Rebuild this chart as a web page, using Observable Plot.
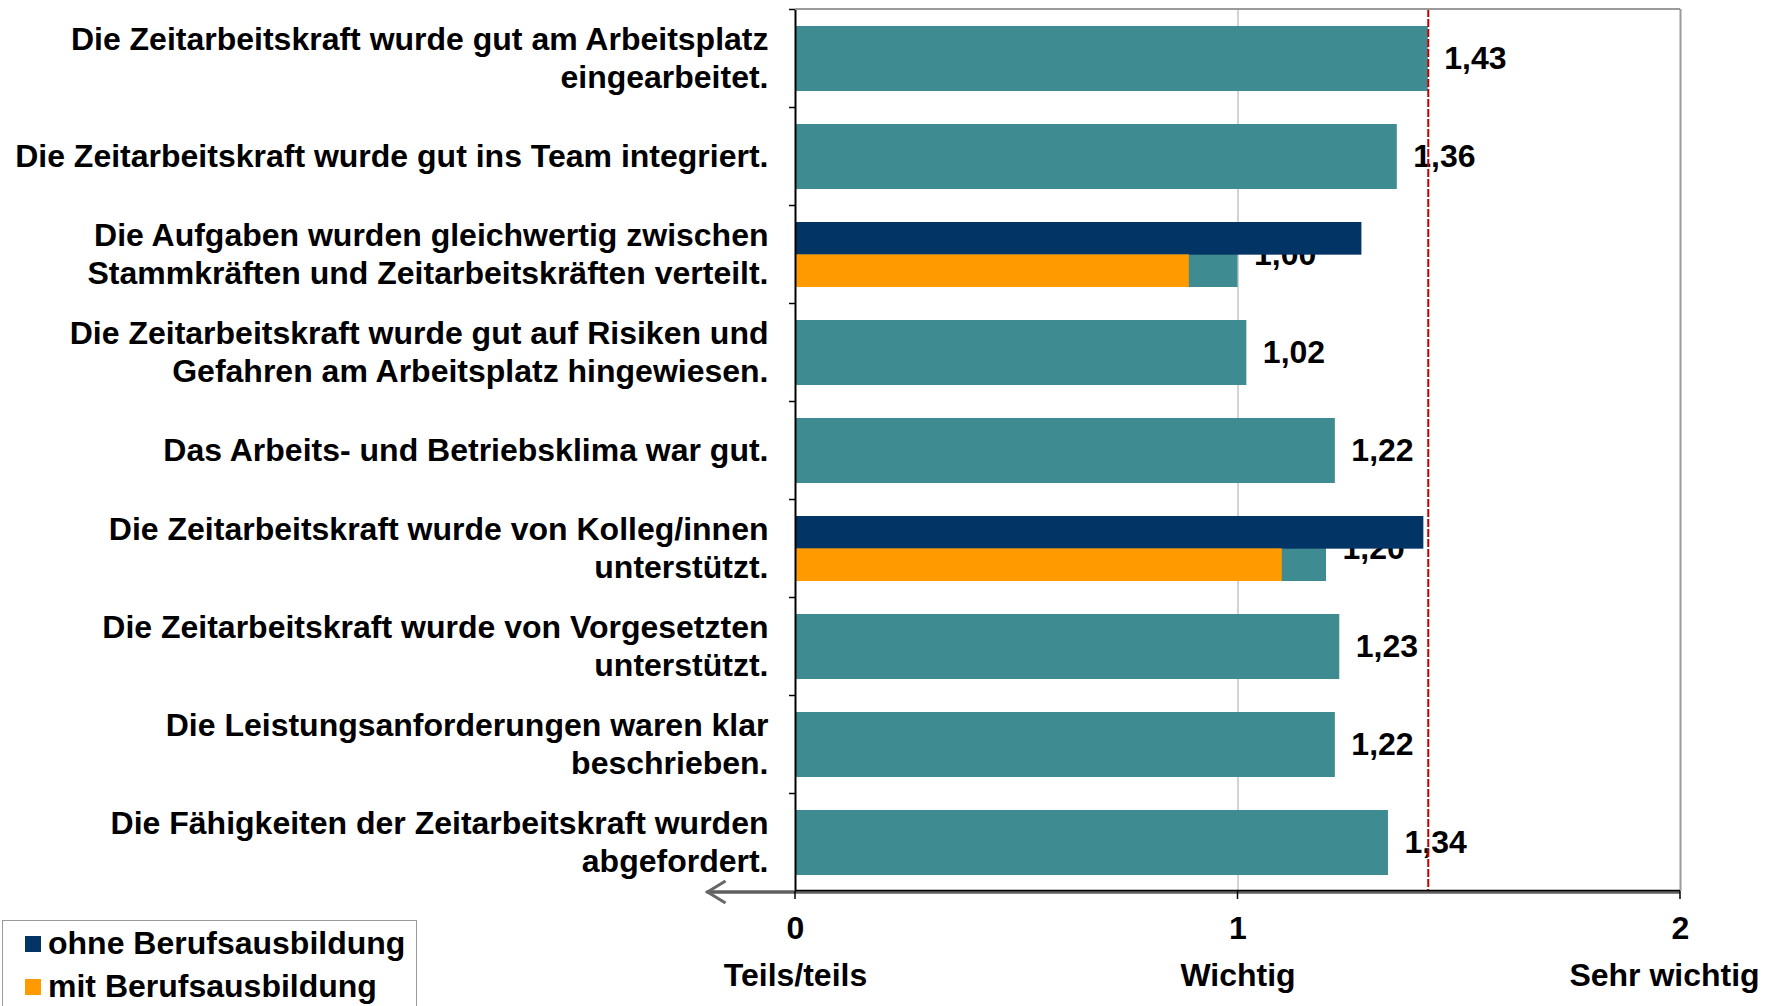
<!DOCTYPE html>
<html>
<head>
<meta charset="utf-8">
<script src="https://cdn.jsdelivr.net/npm/d3@7"></script>
<script src="https://cdn.jsdelivr.net/npm/@observablehq/plot@0.6"></script>
<style>
  html, body { margin: 0; padding: 0; background: #fff; width: 1775px; height: 1006px; overflow: hidden; }
  #chart { position: absolute; left: 0; top: 0; }
  #legend { position: absolute; left: 2px; top: 920px; width: 413px; height: 100px; border: 1.5px solid #9a9a9a; background: #fff;
    font-family: "Liberation Sans", Arial, sans-serif; font-weight: bold; font-size: 32px; color: #000; }
  .item { position: absolute; left: 22px; display: flex; align-items: center; white-space: nowrap; }
  .sw { width: 16px; height: 16px; margin-right: 7px; }
</style>
</head>
<body>
<div id="chart"></div>
<div id="legend"></div>
<script>
const categories = [
  "Die Zeitarbeitskraft wurde gut am Arbeitsplatz\neingearbeitet.",
  "Die Zeitarbeitskraft wurde gut ins Team integriert.",
  "Die Aufgaben wurden gleichwertig zwischen\nStammkräften und Zeitarbeitskräften verteilt.",
  "Die Zeitarbeitskraft wurde gut auf Risiken und\nGefahren am Arbeitsplatz hingewiesen.",
  "Das Arbeits- und Betriebsklima war gut.",
  "Die Zeitarbeitskraft wurde von Kolleg/innen\nunterstützt.",
  "Die Zeitarbeitskraft wurde von Vorgesetzten\nunterstützt.",
  "Die Leistungsanforderungen waren klar\nbeschrieben.",
  "Die Fähigkeiten der Zeitarbeitskraft wurden\nabgefordert."
];
const overallValues = [1.43, 1.36, 1.00, 1.02, 1.22, 1.20, 1.23, 1.22, 1.34];
const splitCategories = [categories[2], categories[5]];
const ohneValues = [1.28, 1.42];
const mitValues = [0.89, 1.10];
const meanValue = 1.43;
const xTicks = [0, 1, 2];
const xTickNames = ["Teils/teils", "Wichtig", "Sehr wichtig"];
const seriesNames = ["ohne Berufsausbildung", "mit Berufsausbildung"];
const colors = { overall: "#3e8c92", ohne: "#023466", mit: "#ff9a00", mean: "#c00000" };

const overall = categories.map((c, i) => ({cat: c, v: overallValues[i]}));
const ohne = splitCategories.map((c, i) => ({cat: c, v: ohneValues[i]}));
const mit = splitCategories.map((c, i) => ({cat: c, v: mitValues[i]}));
const tickData = xTicks.map((t, i) => ({t, name: xTickNames[i]}));

const W = 1775, H = 1006;
const mLeft = 795, mRight = 95, mTop = 9, mBottom = 115;
const step = (H - mTop - mBottom) / categories.length;
const bw = step * 0.66;
const font = "Liberation Sans, Arial, sans-serif";
const FS = 32;

const plot = Plot.plot({
  width: W, height: H,
  marginLeft: mLeft, marginRight: mRight, marginTop: mTop, marginBottom: mBottom,
  style: { fontFamily: font, fontWeight: "bold", fontSize: FS + "px", color: "#000", background: "#fff" },
  x: { domain: [0, 2], axis: null },
  y: { domain: categories, axis: null, paddingInner: 0.34, paddingOuter: 0.17 },
  marks: [
    Plot.ruleX([1], { stroke: "#a6a6a6", strokeWidth: 1 }),
    Plot.barX(overall, { x: "v", y: "cat", fill: colors.overall }),
    Plot.text(overall, { x: "v", y: "cat", text: d => d.v.toFixed(2).replace(".", ","), textAnchor: "start", dx: 16, fontSize: FS, fontWeight: "bold", fill: "#000" }),
    Plot.ruleX([meanValue], { stroke: colors.mean, strokeWidth: 2, strokeDasharray: "8,2" }),
    Plot.barX(ohne, { x: "v", y: "cat", fill: colors.ohne, insetBottom: bw / 2 }),
    Plot.barX(mit, { x: "v", y: "cat", fill: colors.mit, insetTop: bw / 2 }),
    Plot.ruleX([2], { stroke: "#9a9a9a", strokeWidth: 2 }),
    Plot.ruleX([0], { stroke: "#000", strokeWidth: 2 }),
    Plot.text(categories, { y: d => d, text: d => d, frameAnchor: "left", textAnchor: "end", dx: -27, dy: -2, lineHeight: 1.2, fontSize: FS, fontWeight: "bold", fill: "#000" }),
    Plot.text(tickData, { x: "t", text: d => String(d.t), frameAnchor: "bottom", dy: 47, fontSize: FS, fontWeight: "bold", fill: "#000" }),
    Plot.text(tickData.slice(0, 2), { x: "t", text: "name", frameAnchor: "bottom", dy: 94, fontSize: FS, fontWeight: "bold", fill: "#000" }),
    Plot.text(tickData.slice(2), { x: "t", text: "name", frameAnchor: "bottom", dy: 94, dx: -16, fontSize: FS, fontWeight: "bold", fill: "#000" })
  ]
});
document.getElementById("chart").appendChild(plot);

// decorations drawn with the plot's own scales
const xs = plot.scale("x"), ys = plot.scale("y");
const svg = d3.select(plot);
const x0 = xs.apply(0), x2 = xs.apply(2);
const yBottom = H - mBottom;
const g = svg.append("g");
// top border
g.append("line").attr("x1", x0).attr("x2", x2).attr("y1", mTop).attr("y2", mTop).attr("stroke", "#9a9a9a").attr("stroke-width", 2);
// left axis ticks at band boundaries
const gap = step - ys.bandwidth;
categories.forEach(c => {
  const yb = ys.apply(c) - gap / 2;
  g.append("line").attr("x1", x0 - 6).attr("x2", x0).attr("y1", yb).attr("y2", yb).attr("stroke", "#000").attr("stroke-width", 1.5);
});
// bottom axis with left arrow
const arrowTip = xs.apply(-0.2);
g.append("line").attr("x1", arrowTip).attr("x2", x2).attr("y1", yBottom + 1).attr("y2", yBottom + 1).attr("stroke", "#5f5f5f").attr("stroke-width", 3.5);
g.append("line").attr("x1", x0).attr("x2", x2).attr("y1", yBottom - 0.5).attr("y2", yBottom - 0.5).attr("stroke", "#000").attr("stroke-width", 1.5);
g.append("polyline").attr("points", `${arrowTip + 19},${yBottom - 10} ${arrowTip + 1},${yBottom + 1} ${arrowTip + 19},${yBottom + 12}`)
  .attr("fill", "none").attr("stroke", "#666").attr("stroke-width", 3);
xTicks.forEach(t => {
  const xt = xs.apply(t);
  g.append("line").attr("x1", xt).attr("x2", xt).attr("y1", yBottom).attr("y2", yBottom + 8).attr("stroke", "#000").attr("stroke-width", 1.5);
});

// legend
const legend = document.getElementById("legend");
[[seriesNames[0], colors.ohne, 4], [seriesNames[1], colors.mit, 47]].forEach(([name, col, top]) => {
  const it = document.createElement("div");
  it.className = "item";
  it.style.top = top + "px";
  it.innerHTML = `<div class="sw" style="background:${col}"></div><span>${name}</span>`;
  legend.appendChild(it);
});
</script>
</body>
</html>
